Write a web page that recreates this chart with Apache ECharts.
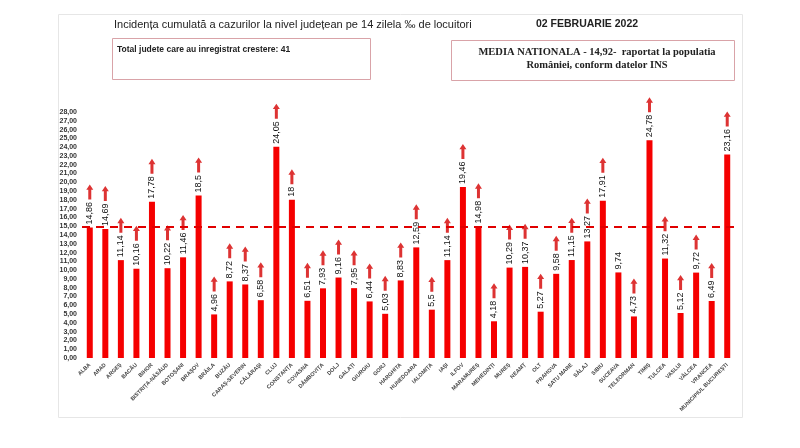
<!DOCTYPE html>
<html>
<head>
<meta charset="utf-8">
<script src="https://cdn.jsdelivr.net/npm/echarts@6/dist/echarts.min.js"></script>
<style>
  html, body { margin: 0; padding: 0; background: #fff; }
  #chart { width: 800px; height: 448px; }
</style>
</head>
<body>
<div id="chart"></div>
<script>
// judete, in ordinea din grafic
const counties = ['ALBA', 'ARAD', 'ARGEȘ', 'BACĂU', 'BIHOR', 'BISTRIȚA-NĂSĂUD', 'BOTOȘANI', 'BRAȘOV',
  'BRĂILA', 'BUZĂU', 'CARAȘ-SEVERIN', 'CĂLĂRAȘI', 'CLUJ', 'CONSTANȚA', 'COVASNA', 'DÂMBOVIȚA',
  'DOLJ', 'GALAȚI', 'GIURGIU', 'GORJ', 'HARGHITA', 'HUNEDOARA', 'IALOMIȚA', 'IAȘI', 'ILFOV',
  'MARAMUREȘ', 'MEHEDINȚI', 'MUREȘ', 'NEAMȚ', 'OLT', 'PRAHOVA', 'SATU MARE', 'SĂLAJ', 'SIBIU',
  'SUCEAVA', 'TELEORMAN', 'TIMIȘ', 'TULCEA', 'VASLUI', 'VÂLCEA', 'VRANCEA', 'MUNICIPIUL BUCUREȘTI'];

// incidenta la 14 zile, la mia de locuitori
const incidence = [14.86, 14.69, 11.14, 10.16, 17.78, 10.22, 11.46, 18.5,
  4.96, 8.72, 8.37, 6.58, 24.05, 18, 6.51, 7.93,
  9.16, 7.95, 6.44, 5.03, 8.83, 12.59, 5.5, 11.14, 19.46,
  14.98, 4.18, 10.29, 10.37, 5.27, 9.58, 11.15, 13.27, 17.91,
  9.74, 4.73, 24.78, 11.32, 5.12, 9.72, 6.49, 23.16];

// 1 = crestere fata de raportarea anterioara
const increased = [1, 1, 1, 1, 1, 1, 1, 1,
  1, 1, 1, 1, 1, 1, 1, 1,
  1, 1, 1, 1, 1, 1, 1, 1, 1,
  1, 1, 1, 1, 1, 1, 1, 1, 1,
  0, 1, 1, 1, 1, 1, 1, 1];

const nationalAverage = 14.92;
const yMin = 0, yMax = 28, yStep = 1;

const fmt = v => String(v).replace('.', ',');
const LABEL_FONT = '9px "Liberation Sans Narrow", "Liberation Sans", Arial';

// lungimea etichetei verticale, ca sageata sa stea deasupra ei
const ctx = document.createElement('canvas').getContext('2d');
ctx.font = LABEL_FONT;
const labelLen = v => ctx.measureText(fmt(v)).width;

const arrowData = [];
incidence.forEach((v, i) => {
  if (increased[i]) {
    arrowData.push({ value: [i, v], symbolOffset: [0, -(labelLen(v) + 13)] });
  }
});

const chart = echarts.init(document.getElementById('chart'));

chart.setOption({
  animation: false,
  backgroundColor: '#fff',
  title: [
    {
      text: 'Incidența cumulată a cazurilor la nivel județean pe 14 zilela ‰ de locuitori',
      left: 109, top: 14,
      textStyle: { fontFamily: '"Liberation Sans Narrow", "Liberation Sans"', fontSize: 11, fontWeight: 'normal', color: '#222' }
    },
    {
      text: '02 FEBRUARIE 2022',
      left: 531, top: 14,
      textStyle: { fontFamily: '"Liberation Sans Narrow", "Liberation Sans"', fontSize: 10.5, fontWeight: 'bold', color: '#222' }
    },
    {
      text: 'Total judete care au inregistrat crestere: 41',
      left: 112, top: 40,
      textStyle: { fontFamily: '"Liberation Sans Narrow", "Liberation Sans"', fontSize: 8.5, fontWeight: 'bold', color: '#222' }
    },
    {
      text: 'MEDIA NATIONALA - 14,92-  raportat la populatia\nRomâniei, conform datelor INS',
      left: 592, top: 41, textAlign: 'center',
      textStyle: { fontFamily: '"Liberation Serif", "Times New Roman", serif', fontSize: 10.5, fontWeight: 'bold', color: '#222', lineHeight: 13, align: 'center' }
    }
  ],
  graphic: [
    { type: 'rect', shape: { x: 58.5, y: 14.5, width: 684, height: 403 }, style: { fill: 'none', stroke: '#e6e6e6', lineWidth: 1 }, z: -1 },
    { type: 'rect', shape: { x: 112.5, y: 38.5, width: 258, height: 41 }, style: { fill: 'none', stroke: '#d9a3a8', lineWidth: 1 } },
    { type: 'rect', shape: { x: 451.5, y: 40.5, width: 283, height: 40 }, style: { fill: 'none', stroke: '#d9a3a8', lineWidth: 1 } }
  ],
  grid: { left: 82, right: 65, top: 112, bottom: 90 },
  xAxis: {
    type: 'category',
    data: counties,
    axisLine: { show: false },
    axisTick: { show: false },
    axisLabel: {
      interval: 0, rotate: 45, margin: 6,
      fontSize: 5.5, fontWeight: 'bold', color: '#444',
      fontFamily: '"Liberation Sans Narrow", "Liberation Sans"'
    }
  },
  yAxis: {
    type: 'value',
    min: yMin, max: yMax, interval: yStep,
    axisLine: { show: false },
    axisTick: { show: false },
    splitLine: { show: false },
    axisLabel: {
      margin: 5, fontSize: 7, fontWeight: 'bold', color: '#333',
      fontFamily: '"Liberation Sans Narrow", "Liberation Sans"',
      formatter: v => v.toFixed(2).replace('.', ',')
    }
  },
  series: [
    {
      type: 'bar',
      data: incidence,
      barWidth: 6,
      itemStyle: { color: '#f50000' },
      label: {
        show: true, position: 'top', rotate: 90, distance: 3,
        align: 'left', verticalAlign: 'middle',
        fontSize: 9, color: '#111',
        fontFamily: '"Liberation Sans Narrow", "Liberation Sans"',
        formatter: p => fmt(p.value)
      },
      markLine: {
        silent: true,
        symbol: 'none',
        label: { show: false },
        lineStyle: { color: '#e00000', width: 2, type: [8, 6] },
        data: [{ yAxis: nationalAverage }]
      }
    },
    {
      type: 'scatter',
      data: arrowData,
      symbol: 'path://M3.5,0 L7,5 L5,5 L5,14 L2,14 L2,5 L0,5 Z',
      symbolSize: [7, 15],
      itemStyle: { color: '#d40000' },
      z: 3
    }
  ]
});
</script>
</body>
</html>
